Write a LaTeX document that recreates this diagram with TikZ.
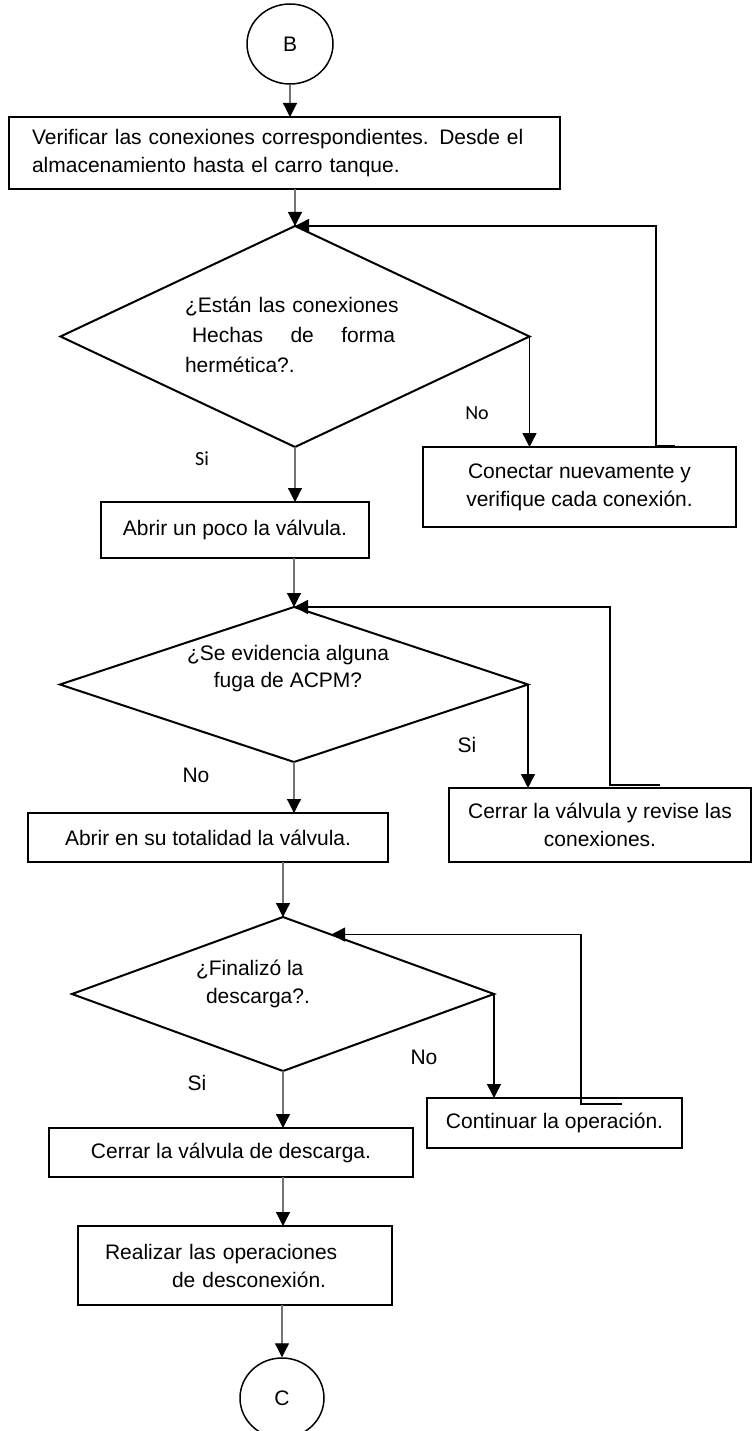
\documentclass[tikz,border=0pt]{standalone}
\usepackage{fontspec}
\setmainfont{Liberation Sans}
\newfontfamily\calibri{Carlito}
\usetikzlibrary{shapes.geometric,arrows.meta}

\tikzset{
  caja/.style={draw, rectangle, line width=2pt, inner sep=0pt, outer sep=0pt, font=\fontsize{21}{28}\selectfont},
  decision/.style={draw, diamond, line width=2pt, inner sep=0pt, outer sep=0pt},
  conector/.style={draw, ellipse, line width=1.5pt, inner sep=0pt, font=\fontsize{21}{28}\selectfont},
  texto/.style={inner sep=0pt, font=\fontsize{21}{28}\selectfont},
  flujo/.style={draw=black!55, line width=1.2pt, -{Triangle[length=14pt,width=14pt,color=black]}},
  retorno/.style={draw=black, line width=1.4pt, -{Triangle[length=14pt,width=14pt,color=black]}},
}

\begin{document}
\begin{tikzpicture}[x=1pt, y=-1pt]
\useasboundingbox (0,0) rectangle (752,1431);
% conector B
\node[conector, minimum width=86pt, minimum height=80pt] (B) at (290,44) {B};
% verificar conexiones
\node[caja, minimum width=551pt, minimum height=72pt, text width=505pt, align=left] (ver) at (284.5,153)
  {Verificar las conexiones correspondientes. Desde el\\almacenamiento hasta el carro tanque.};
%% pregunta 1
\node[decision, minimum width=469pt, minimum height=221pt] (d1) at (295,336.5) {};
\node[texto, font=\fontsize{21}{30}\selectfont, text width=225pt, align=left] (q1) at (297.5,335)
  {\mbox{¿Están las conexiones}\\\hspace*{7pt}\makebox[203pt][l]{Hechas\hfill de\hfill forma}\\hermética?.};
\node[caja, minimum width=313pt, minimum height=80pt, align=center] (cn) at (579.5,487)
  {Conectar nuevamente y\\verifique cada conexión.};
\node[caja, minimum width=268pt, minimum height=56pt] (a1) at (235,530) {Abrir un poco la válvula.};
\node[texto, font=\calibri\fontsize{20}{24}\selectfont] (no1) at (477,413) {No};
\node[texto, font=\calibri\fontsize{20}{24}\selectfont] (si1) at (202,459) {Si};
%% pregunta 2
\node[decision, minimum width=468pt, minimum height=155pt] (d2) at (294,684.5) {};
\node[texto, font=\fontsize{21}{27}\selectfont, align=center] (q2) at (288,669) {¿Se evidencia alguna\\fuga de ACPM?};
\node[caja, minimum width=302pt, minimum height=74pt, align=center] (cv) at (600,825)
  {Cerrar la válvula y revise las\\conexiones.};
\node[caja, minimum width=360pt, minimum height=49pt] (a2) at (208,837.5) {Abrir en su totalidad la válvula.};
\node[texto] (si2) at (467,745) {Si};
\node[texto] (no2) at (196,775) {No};
%% pregunta 3
\node[decision, minimum width=422pt, minimum height=154pt] (d3) at (283,994) {};
\node[texto, align=left] (q3) at (253,984) {¿Finalizó la\\\hspace*{10pt}descarga?.};
\node[caja, minimum width=255pt, minimum height=50pt] (co) at (554.5,1123) {Continuar la operación.};
\node[caja, minimum width=364pt, minimum height=49pt] (cd) at (231,1152.5) {Cerrar la válvula de descarga.};
\node[texto] (no3) at (424,1057) {No};
\node[texto] (si3) at (197,1083) {Si};
% desconexion y conector C
\node[caja, minimum width=314pt, minimum height=79pt, text width=260pt, align=left] (rd) at (235,1265.5)
  {Realizar las operaciones\\\hspace*{67pt}de desconexión.};
\node[conector, minimum width=84pt, minimum height=80pt] (C) at (282,1398) {C};

% flechas principales
\draw[flujo] (B.south) -- (B.south |- ver.north);
\draw[flujo] (ver.south -| d1.north) -- (d1.north);
\draw[flujo] (d1.south) -- (d1.south |- a1.north);
\draw[flujo] (a1.south -| d2.north) -- (d2.north);
\draw[flujo] (d2.south) -- (d2.south |- a2.north);
\draw[flujo] (a2.south -| d3.north) -- (d3.north);
\draw[flujo] (d3.south) -- (d3.south |- cd.north);
\draw[flujo] (cd.south -| d3.south) -- (rd.north -| d3.south);
\draw[flujo] (rd.south -| C.north) -- (C.north);
% salidas laterales
\draw[retorno] (d1.east) -- (d1.east |- cn.north);
\draw[retorno] (d2.east) -- (d2.east |- cv.north);
\draw[retorno] (d3.east) -- (d3.east |- co.north);
% lazos de regreso
\coordinate (r1) at (675,446);
\coordinate (r2) at (660,785);
\coordinate (r3) at (622,1104);
\draw[retorno] (r1) -- ++(-19,0) |- (d1.north);
\draw[retorno] (r2) -- ++(-50,0) |- (d2.north);
\draw[retorno] (r3) -- ++(-41,0) |- (d3.51);
\end{tikzpicture}
\end{document}
